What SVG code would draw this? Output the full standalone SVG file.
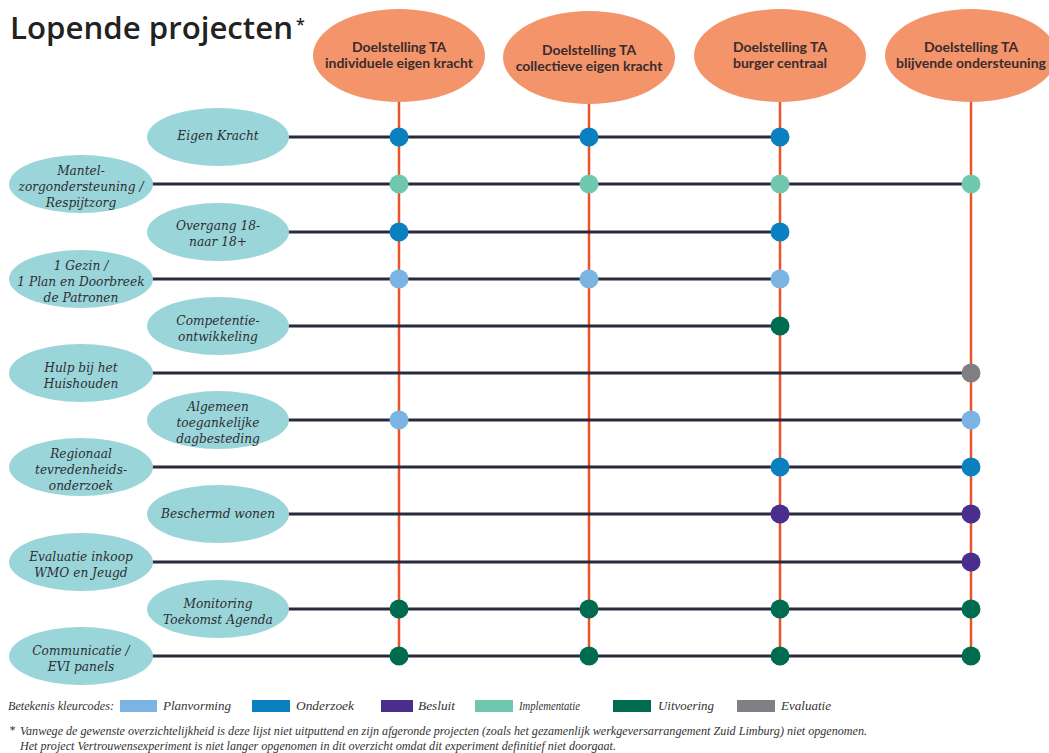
<svg xmlns="http://www.w3.org/2000/svg" width="1049" height="753" viewBox="0 0 1049 753">
<style>
.hdr{fill:#f3946b}
.hdt{font-family:Lato,"Open Sans",sans-serif;font-weight:700;font-size:14px;fill:#3b2b2b;text-anchor:middle}
.prj{fill:#9ad5da}
.pt{font-family:"DejaVu Serif","Liberation Serif",serif;font-style:italic;font-size:12.2px;fill:#2e2e33;text-anchor:middle}
.v{stroke:#e9542a;stroke-width:2.5}
.h{stroke:#2a2a3b;stroke-width:3}
.P{fill:#7bb4e2}.O{fill:#0a80c0}.B{fill:#4a2d8c}.I{fill:#6fc7ae}.U{fill:#006c4f}.E{fill:#808084}
.lg{font-family:"Liberation Serif",serif;font-style:italic;font-size:12px;fill:#333}
</style>
<rect width="1049" height="753" fill="#fff"/>
<text x="10" y="39" font-family="'Open Sans',Lato,sans-serif" font-weight="600" font-size="31" fill="#222" textLength="283" lengthAdjust="spacingAndGlyphs">Lopende projecten</text>
<text x="296" y="30" font-family="'Open Sans',sans-serif" font-weight="600" font-size="16" fill="#222">*</text>

<g id="connectors">
<line class="v" x1="399" y1="100" x2="399" y2="656"/>
<line class="v" x1="589" y1="100" x2="589" y2="656"/>
<line class="v" x1="780" y1="100" x2="780" y2="656"/>
<line class="v" x1="971" y1="100" x2="971" y2="656"/>
<line class="h" x1="288" y1="137" x2="780" y2="137"/>
<line class="h" x1="152" y1="184" x2="971" y2="184"/>
<line class="h" x1="288" y1="232" x2="780" y2="232"/>
<line class="h" x1="152" y1="279" x2="780" y2="279"/>
<line class="h" x1="288" y1="326" x2="780" y2="326"/>
<line class="h" x1="152" y1="373" x2="971" y2="373"/>
<line class="h" x1="288" y1="420" x2="971" y2="420"/>
<line class="h" x1="152" y1="467" x2="971" y2="467"/>
<line class="h" x1="288" y1="514" x2="971" y2="514"/>
<line class="h" x1="152" y1="562" x2="971" y2="562"/>
<line class="h" x1="288" y1="609" x2="971" y2="609"/>
<line class="h" x1="152" y1="656" x2="971" y2="656"/>
</g>

<g id="goal1"><ellipse class="hdr" cx="399" cy="55.5" rx="86" ry="46.5"/><text class="hdt" x="399" y="52">Doelstelling TA</text><text class="hdt" x="399" y="68">individuele eigen kracht</text></g>
<g id="goal2"><ellipse class="hdr" cx="589" cy="57.5" rx="86" ry="46.5"/><text class="hdt" x="589" y="55">Doelstelling TA</text><text class="hdt" x="589" y="71">collectieve eigen kracht</text></g>
<g id="goal3"><ellipse class="hdr" cx="780" cy="55.5" rx="86" ry="46.5"/><text class="hdt" x="780" y="52">Doelstelling TA</text><text class="hdt" x="780" y="68">burger centraal</text></g>
<g id="goal4"><ellipse class="hdr" cx="971" cy="55.5" rx="86" ry="46.5"/><text class="hdt" x="971" y="52">Doelstelling TA</text><text class="hdt" x="971" y="68">blijvende ondersteuning</text></g>

<g id="p1"><ellipse class="prj" cx="218" cy="137" rx="71" ry="29"/><text class="pt" x="218" y="140">Eigen Kracht</text></g>
<g id="p2"><ellipse class="prj" cx="81" cy="184" rx="72" ry="29"/><text class="pt" x="81" y="175">Mantel-</text><text class="pt" x="81" y="191">zorgondersteuning /</text><text class="pt" x="81" y="207">Respijtzorg</text></g>
<g id="p3"><ellipse class="prj" cx="218" cy="232" rx="71" ry="29"/><text class="pt" x="218" y="230">Overgang 18-</text><text class="pt" x="218" y="246">naar 18+</text></g>
<g id="p4"><ellipse class="prj" cx="81" cy="279" rx="72" ry="29"/><text class="pt" x="81" y="270">1 Gezin /</text><text class="pt" x="81" y="286">1 Plan en Doorbreek</text><text class="pt" x="81" y="302">de Patronen</text></g>
<g id="p5"><ellipse class="prj" cx="218" cy="326" rx="71" ry="29"/><text class="pt" x="218" y="325">Competentie-</text><text class="pt" x="218" y="341">ontwikkeling</text></g>
<g id="p6"><ellipse class="prj" cx="81" cy="373" rx="72" ry="29"/><text class="pt" x="81" y="372">Hulp bij het</text><text class="pt" x="81" y="388">Huishouden</text></g>
<g id="p7"><ellipse class="prj" cx="218" cy="420" rx="71" ry="29"/><text class="pt" x="218" y="411">Algemeen</text><text class="pt" x="218" y="427">toegankelijke</text><text class="pt" x="218" y="443">dagbesteding</text></g>
<g id="p8"><ellipse class="prj" cx="81" cy="467" rx="72" ry="29"/><text class="pt" x="81" y="458">Regionaal</text><text class="pt" x="81" y="474">tevredenheids-</text><text class="pt" x="81" y="490">onderzoek</text></g>
<g id="p9"><ellipse class="prj" cx="218" cy="514" rx="71" ry="29"/><text class="pt" x="218" y="518">Beschermd wonen</text></g>
<g id="p10"><ellipse class="prj" cx="81" cy="562" rx="72" ry="29"/><text class="pt" x="81" y="561">Evaluatie inkoop</text><text class="pt" x="81" y="577">WMO en Jeugd</text></g>
<g id="p11"><ellipse class="prj" cx="218" cy="609" rx="71" ry="29"/><text class="pt" x="218" y="608">Monitoring</text><text class="pt" x="218" y="624">Toekomst Agenda</text></g>
<g id="p12"><ellipse class="prj" cx="81" cy="656" rx="72" ry="29"/><text class="pt" x="81" y="655">Communicatie /</text><text class="pt" x="81" y="671">EVI panels</text></g>

<g id="dots">
<circle class="O" cx="399" cy="137" r="9.5"/><circle class="O" cx="589" cy="137" r="9.5"/><circle class="O" cx="780" cy="137" r="9.5"/>
<circle class="I" cx="399" cy="184" r="9.5"/><circle class="I" cx="589" cy="184" r="9.5"/><circle class="I" cx="780" cy="184" r="9.5"/><circle class="I" cx="971" cy="184" r="9.5"/>
<circle class="O" cx="399" cy="232" r="9.5"/><circle class="O" cx="780" cy="232" r="9.5"/>
<circle class="P" cx="399" cy="279" r="9.5"/><circle class="P" cx="589" cy="279" r="9.5"/><circle class="P" cx="780" cy="279" r="9.5"/>
<circle class="U" cx="780" cy="326" r="9.5"/>
<circle class="E" cx="971" cy="373" r="9.5"/>
<circle class="P" cx="399" cy="420" r="9.5"/><circle class="P" cx="971" cy="420" r="9.5"/>
<circle class="O" cx="780" cy="467" r="9.5"/><circle class="O" cx="971" cy="467" r="9.5"/>
<circle class="B" cx="780" cy="514" r="9.5"/><circle class="B" cx="971" cy="514" r="9.5"/>
<circle class="B" cx="971" cy="562" r="9.5"/>
<circle class="U" cx="399" cy="609" r="9.5"/><circle class="U" cx="589" cy="609" r="9.5"/><circle class="U" cx="780" cy="609" r="9.5"/><circle class="U" cx="971" cy="609" r="9.5"/>
<circle class="U" cx="399" cy="656" r="9.5"/><circle class="U" cx="589" cy="656" r="9.5"/><circle class="U" cx="780" cy="656" r="9.5"/><circle class="U" cx="971" cy="656" r="9.5"/>
</g>

<g id="legend">
<text class="lg" x="8" y="710" textLength="106" lengthAdjust="spacingAndGlyphs">Betekenis kleurcodes:</text>
<rect class="P" x="120" y="700" width="37" height="12"/><text class="lg" x="163" y="710" textLength="68" lengthAdjust="spacingAndGlyphs">Planvorming</text>
<rect class="O" x="252" y="700" width="38" height="12"/><text class="lg" x="296" y="710" textLength="58" lengthAdjust="spacingAndGlyphs">Onderzoek</text>
<rect class="B" x="381" y="700" width="32" height="12"/><text class="lg" x="418" y="710" textLength="37" lengthAdjust="spacingAndGlyphs">Besluit</text>
<rect class="I" x="475" y="700" width="38" height="12"/><text class="lg" x="519" y="710" textLength="61" lengthAdjust="spacingAndGlyphs">Implementatie</text>
<rect class="U" x="613" y="700" width="38" height="12"/><text class="lg" x="658" y="710" textLength="56" lengthAdjust="spacingAndGlyphs">Uitvoering</text>
<rect class="E" x="737" y="700" width="38" height="12"/><text class="lg" x="781" y="710" textLength="50" lengthAdjust="spacingAndGlyphs">Evaluatie</text>
<text class="lg" x="9" y="734">*</text>
<text class="lg" x="20" y="735" textLength="847" lengthAdjust="spacingAndGlyphs">Vanwege de gewenste overzichtelijkheid is deze lijst niet uitputtend en zijn afgeronde projecten (zoals het gezamenlijk werkgeversarrangement Zuid Limburg) niet opgenomen.</text>
<text class="lg" x="20" y="750" textLength="596" lengthAdjust="spacingAndGlyphs">Het project Vertrouwensexperiment is niet langer opgenomen in dit overzicht omdat dit experiment definitief niet doorgaat.</text>
</g>
</svg>
